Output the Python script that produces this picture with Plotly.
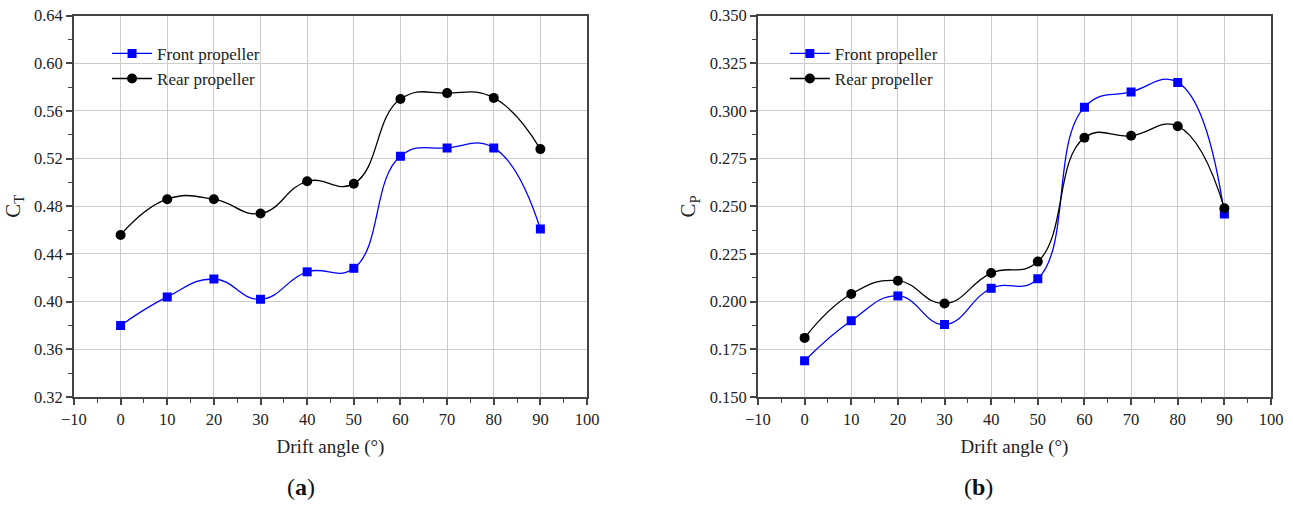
import plotly.graph_objects as go
from plotly.subplots import make_subplots

drift_angle = [0, 10, 20, 30, 40, 50, 60, 70, 80, 90]
ct_front = [0.380, 0.404, 0.419, 0.402, 0.425, 0.428, 0.522, 0.529, 0.529, 0.461]
ct_rear = [0.456, 0.486, 0.486, 0.474, 0.501, 0.499, 0.570, 0.575, 0.571, 0.528]
cp_front = [0.169, 0.190, 0.203, 0.188, 0.207, 0.212, 0.302, 0.310, 0.315, 0.246]
cp_rear = [0.181, 0.204, 0.211, 0.199, 0.215, 0.221, 0.286, 0.287, 0.292, 0.249]
series_names = ["Front propeller", "Rear propeller"]

FONT = "Liberation Serif, Times New Roman, serif"
BLUE = "#0000ff"
BLACK = "#000000"

fig = make_subplots(rows=1, cols=2)

for col, (front, rear), leg in [(1, (ct_front, ct_rear), "legend"), (2, (cp_front, cp_rear), "legend2")]:
    fig.add_trace(go.Scatter(
        x=drift_angle, y=front, name=series_names[0], mode="lines+markers",
        line=dict(color=BLUE, width=1.3, shape="spline", smoothing=1.3),
        marker=dict(symbol="square", size=9, color=BLUE),
        legend=leg), row=1, col=col)
    fig.add_trace(go.Scatter(
        x=drift_angle, y=rear, name=series_names[1], mode="lines+markers",
        line=dict(color=BLACK, width=1.3, shape="spline", smoothing=1.3),
        marker=dict(symbol="circle", size=10, color=BLACK),
        legend=leg), row=1, col=col)

axis_common = dict(
    showline=True, linecolor="#444444", linewidth=1.8, mirror=True,
    ticks="outside", ticklen=6, tickwidth=1.5, tickcolor="#444444",
    showgrid=True, gridcolor="#cccccc", gridwidth=1,
    zeroline=False, automargin=False,
    tickfont=dict(family=FONT, size=16.5, color="#222222"),
)

xcommon = dict(axis_common, range=[-10, 100], tickmode="linear", tick0=-10, dtick=10,
               minor=dict(ticks="outside", ticklen=4, tickwidth=1.2, tickcolor="#444444", dtick=5, tick0=-10, showgrid=False),
               title=dict(text="Drift angle (°)", font=dict(family=FONT, size=19, color="#222222"), standoff=12))

fig.update_xaxes(xcommon, domain=[0.0572, 0.454], row=1, col=1)
fig.update_xaxes(xcommon, domain=[0.5862, 0.983], row=1, col=2)

fig.update_yaxes(axis_common, domain=[0.2139, 0.969], range=[0.32, 0.64], tickmode="linear", tick0=0.32, dtick=0.04,
                 tickformat=".2f",
                 minor=dict(ticks="outside", ticklen=4, tickwidth=1.2, tickcolor="#444444", dtick=0.02, tick0=0.32, showgrid=False),
                 title=dict(text="C<sub>T</sub>", font=dict(family=FONT, size=21, color="#222222"), standoff=8),
                 row=1, col=1)
fig.update_yaxes(axis_common, domain=[0.2139, 0.969], range=[0.15, 0.35], tickmode="linear", tick0=0.15, dtick=0.025,
                 tickformat=".3f",
                 minor=dict(ticks="outside", ticklen=4, tickwidth=1.2, tickcolor="#444444", dtick=0.0125, tick0=0.15, showgrid=False),
                 title=dict(text="C<sub>P</sub>", font=dict(family=FONT, size=21, color="#222222"), standoff=8),
                 row=1, col=2)

legend_style = dict(font=dict(family=FONT, size=17, color="#222222"), bgcolor="rgba(0,0,0,0)",
                    xanchor="left", yanchor="top", tracegroupgap=0, itemwidth=40)

fig.update_layout(
    width=1293, height=505,
    margin=dict(l=0, r=0, t=0, b=0, autoexpand=False),
    paper_bgcolor="white", plot_bgcolor="white",
    legend=dict(legend_style, x=0.0828, y=0.929),
    legend2=dict(legend_style, x=0.607, y=0.929),
    annotations=[
        dict(text="(<b>a</b>)", x=0.2328, y=0.036, xref="paper", yref="paper", showarrow=False,
             font=dict(family=FONT, size=24, color="#111111"), xanchor="center", yanchor="middle"),
        dict(text="(<b>b</b>)", x=0.757, y=0.036, xref="paper", yref="paper", showarrow=False,
             font=dict(family=FONT, size=24, color="#111111"), xanchor="center", yanchor="middle"),
    ],
)

fig.write_html("out.html")
